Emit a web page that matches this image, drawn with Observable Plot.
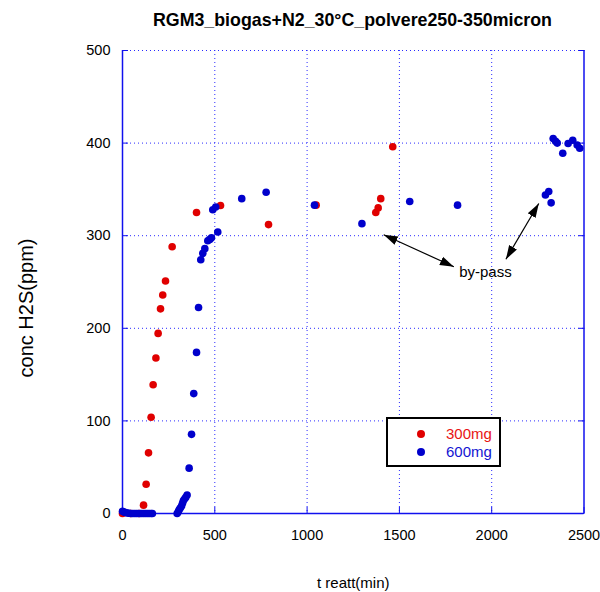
<!DOCTYPE html>
<html><head><meta charset="utf-8">
<script src="https://cdn.jsdelivr.net/npm/d3@7"></script>
<script src="https://cdn.jsdelivr.net/npm/@observablehq/plot@0.6"></script>
<style>
body{margin:0;background:#fff;font-family:"Liberation Sans",Arial,sans-serif;}
#wrap{position:relative;width:600px;height:592px;overflow:hidden;}
#title{height:26px;padding-top:10px;line-height:20px;margin-left:105px;width:495px;text-align:center;font-weight:bold;font-size:17.8px;color:#000;}
#legend{position:absolute;left:386px;top:417px;width:115px;height:50px;box-sizing:border-box;border:2px solid #000;background:#fff;}
#legend .row{position:absolute;left:0;height:18px;line-height:18px;font-size:15px;}
#legend .dot{position:absolute;left:29px;top:5px;width:8px;height:8px;border-radius:50%;}
#legend .lab{position:absolute;left:58px;top:0;white-space:nowrap;}
</style></head><body>
<div id="wrap">
<div id="title">RGM3_biogas+N2_30°C_polvere250-350micron</div>
<div id="chart"></div>
<div id="legend"></div>
</div>
<script>
// ---- data ----
const seriesNames = ["300mg", "600mg"];
const seriesColors = ["#e00000", "#0000cc"];
const seriesTextColors = ["#e81414", "#1414d2"];

const x300 = [0, 45, 90, 114, 128, 141, 155, 166, 181, 193, 206, 218, 233, 269, 401, 531, 791, 1049, 1372, 1385, 1399, 1464];
const y300 = [0, 0, 0, 9, 31.6, 65.5, 104, 139, 168, 194.5, 221, 236, 251, 288, 325, 332.6, 312, 333, 325, 330, 340, 396];

const x600 = [0, 8, 16, 25, 35, 45, 55, 65, 75, 85, 95, 105, 115, 125, 135, 145, 155, 162,
  296, 302, 307, 313, 320, 325, 330, 337, 343, 350,
  361, 374, 386, 401, 412, 424, 435, 446, 462, 473, 482, 489, 505, 516,
  646, 778, 1040, 1297, 1556, 1815, 2291, 2309, 2322,
  2333, 2346, 2355, 2385, 2414, 2439, 2463, 2477];
const y600 = [2.5, 1.5, 1, 0.5, 0.3, 0, 0, 0, 0, 0, 0, 0, 0, 0, 0, 0, 0, 0,
  0, 2, 4, 6, 8, 11, 14, 16, 17.6, 20,
  49, 85.5, 129.5, 174, 222.5, 274, 281, 286, 294.5, 296, 297.7, 328, 331, 304,
  340, 347, 333, 313, 337, 333, 344, 347.7, 335.5,
  405, 402, 400, 389, 399.5, 403, 398, 394.5];

const xTicks = [0, 500, 1000, 1500, 2000, 2500];
const yTicks = [0, 100, 200, 300, 400, 500];
const xGrid = [500, 1000, 1500, 2000];
const yGrid = [100, 200, 300, 400, 500];

const titleText = "RGM3_biogas+N2_30°C_polvere250-350micron";
const xLabel = "t reatt(min)";
const yLabel = "conc H2S(ppm)";

// by-pass annotation: arrows (double headed) and label
const arrowX1 = [1415, 2077];
const arrowY1 = [301, 274.5];
const arrowX2 = [1795, 2255];
const arrowY2 = [266.5, 334.7];
const noteX = [1966];
const noteY = [261];
const noteText = ["by-pass"];

// ---- build ----
const red = x300.map((x, i) => ({x, y: y300[i]}));
const blue = x600.map((x, i) => ({x, y: y600[i]}));
const arrows = arrowX1.map((x1, i) => ({x1, y1: arrowY1[i], x2: arrowX2[i], y2: arrowY2[i]}));
const notes = noteX.map((x, i) => ({x, y: noteY[i], t: noteText[i]}));

const axisBlue = "#1010ee";
const gridBlue = "#2a2aff";

const chart = Plot.plot({
  width: 600,
  height: 556,
  marginTop: 14,
  marginBottom: 79,
  marginLeft: 122,
  marginRight: 16.5,
  style: {fontFamily: "'Liberation Sans', Arial, sans-serif", fontSize: "14.5px", color: "#000", background: "#fff"},
  x: {domain: [0, 2500]},
  y: {domain: [0, 500]},
  marks: [
    Plot.gridX(xGrid, {stroke: gridBlue, strokeOpacity: 1, strokeWidth: 1, strokeDasharray: "1,3"}),
    Plot.gridY(yGrid, {stroke: gridBlue, strokeOpacity: 1, strokeWidth: 1, strokeDasharray: "1,3"}),
    Plot.ruleX([0, 2500], {stroke: axisBlue, strokeWidth: 1.5}),
    Plot.ruleY([0], {stroke: axisBlue, strokeWidth: 1.5}),
    // inward ticks
    Plot.axisX(xTicks, {anchor: "bottom", tickSize: 6, dy: -6, stroke: axisBlue, tickFormat: () => "", label: null}),
    Plot.axisY(yTicks, {anchor: "left", tickSize: 6, dx: 6, stroke: axisBlue, tickFormat: () => "", label: null}),
    Plot.axisY(yTicks, {anchor: "right", tickSize: 6, dx: -6, stroke: axisBlue, tickFormat: () => "", label: null}),
    // tick labels
    Plot.axisX(xTicks, {anchor: "bottom", tickSize: 0, tickPadding: 16, fill: "#000", label: null, tickFormat: d => String(d)}),
    Plot.axisY(yTicks, {anchor: "left", tickSize: 0, tickPadding: 12, fill: "#000", label: null, tickFormat: d => String(d)}),
    // axis titles
    Plot.text([xLabel], {frameAnchor: "bottom", dy: 70, fontSize: 15, fill: "#000", textAnchor: "middle", lineAnchor: "middle"}),
    Plot.text([yLabel], {frameAnchor: "left", dx: -96, dy: 26, rotate: -90, fontSize: 20, fill: "#000", textAnchor: "middle", lineAnchor: "middle"}),
    // data
    Plot.dot(red, {x: "x", y: "y", r: 3.8, fill: seriesColors[0], stroke: "none"}),
    Plot.dot(blue, {x: "x", y: "y", r: 3.8, fill: seriesColors[1], stroke: "none"}),
    // annotation
    Plot.link(arrows, {x1: "x1", y1: "y1", x2: "x2", y2: "y2", stroke: "#000", strokeWidth: 1.2, markerStart: "arrow", markerEnd: "arrow"}),
    Plot.text(notes, {x: "x", y: "y", text: "t", fontSize: 15, fill: "#000", textAnchor: "middle", lineAnchor: "middle"})
  ]
});

// filled triangular arrowheads
chart.querySelectorAll("marker").forEach(m => {
  m.setAttribute("viewBox", "-14 -7 14 14");
  m.setAttribute("markerUnits", "userSpaceOnUse");
  m.setAttribute("markerWidth", "14");
  m.setAttribute("markerHeight", "14");
  m.setAttribute("refX", "0");
  m.setAttribute("refY", "0");
  m.setAttribute("orient", "auto-start-reverse");
  m.setAttribute("fill", "#000");
  m.setAttribute("stroke", "none");
  m.querySelectorAll("path").forEach(p => {
    p.setAttribute("d", "M-14,-4.5L0,0L-14,4.5Z");
    p.setAttribute("fill", "#000");
    p.setAttribute("stroke", "none");
  });
});

document.getElementById("chart").appendChild(chart);

// legend
const legend = document.getElementById("legend");
seriesNames.forEach((name, i) => {
  const row = document.createElement("div");
  row.className = "row";
  row.style.top = (6 + i * 18) + "px";
  row.style.width = "100%";
  const dot = document.createElement("div");
  dot.className = "dot";
  dot.style.background = seriesColors[i];
  const lab = document.createElement("div");
  lab.className = "lab";
  lab.style.color = seriesTextColors[i];
  lab.textContent = name;
  row.appendChild(dot);
  row.appendChild(lab);
  legend.appendChild(row);
});
</script>
</body></html>
